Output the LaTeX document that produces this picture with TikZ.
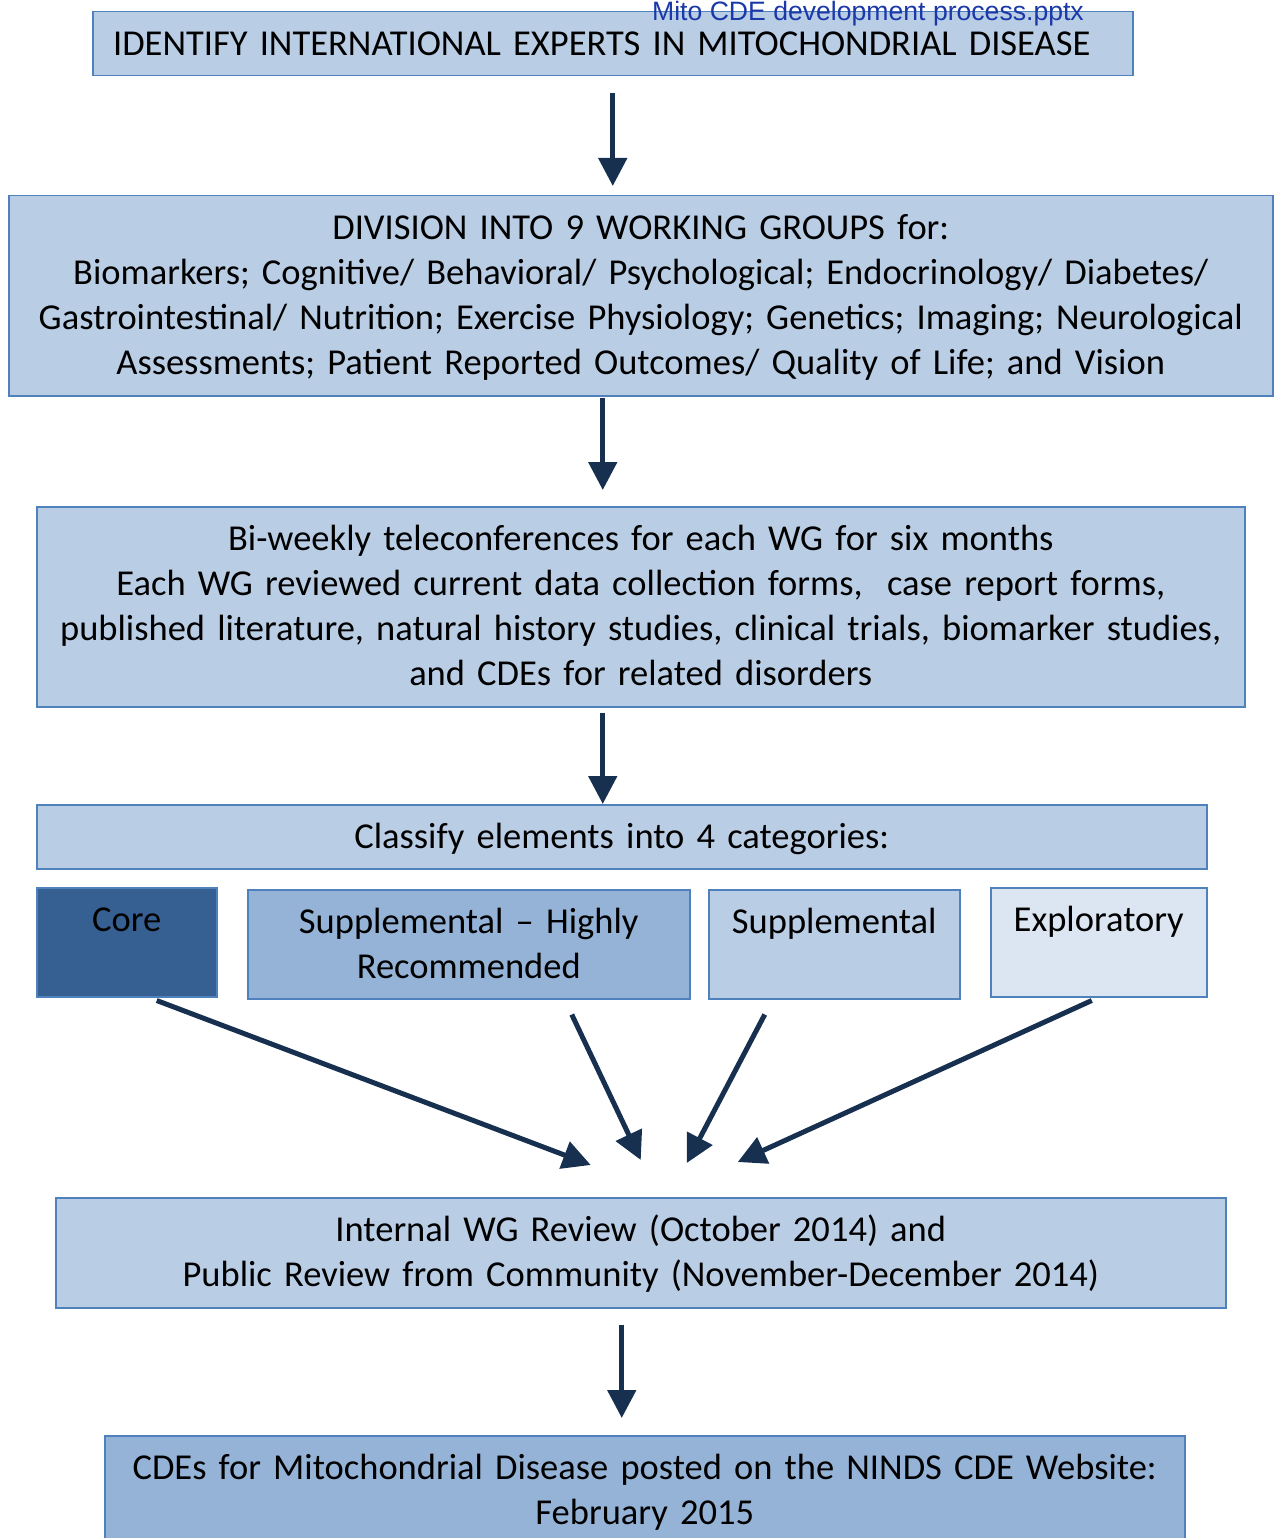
\documentclass[tikz,border=0pt]{standalone}
\usepackage{fontspec}
\setmainfont{Carlito}[WordSpace=0.85]
\newfontfamily\pptxfont{Liberation Sans}
\usepackage{tikz}
\usetikzlibrary{arrows.meta}
\definecolor{boxfill}{HTML}{B9CDE5}
\definecolor{boxline}{HTML}{4F81BD}
\definecolor{corefill}{HTML}{376092}
\definecolor{highfill}{HTML}{95B3D7}
\definecolor{explfill}{HTML}{DCE6F2}
\definecolor{arrowcol}{HTML}{17304F}
\definecolor{pptxblue}{HTML}{1A38A8}

\begin{document}
\begin{tikzpicture}[
    x=1pt, y=-1pt,
    >={Triangle[length=28pt,width=28pt]},
    font=\fontsize{36.5pt}{45pt}\selectfont,
    stage/.style={
		rectangle,
		draw=boxline,
		line width=1.5pt,
		fill=boxfill,
		anchor=north west,
		align=center,
		inner xsep=0pt,
		inner ysep=0pt,
		text height=44pt
	},
	category/.style={
		stage,
		text depth=65pt
	},
	flow/.style={
		draw=arrowcol,
		line width=5pt,
		->
	}
  ]
\useasboundingbox (0,0) rectangle (1274,1538);

% // the stages
\node [stage, text width=1040pt, text depth=20pt] (experts) at (92,11)
 {IDENTIFY INTERNATIONAL EXPERTS IN MITOCHONDRIAL DISEASE\kern22pt\null};
\node [font=\pptxfont\fontsize{26.6pt}{30pt}\selectfont, text=pptxblue,
 anchor=base, inner sep=0pt] (pptx) at (868,21) {Mito CDE development process.pptx};

\node [stage, text width=1264pt, text depth=156pt] (groups) at (8,195)
 {DIVISION INTO 9 WORKING GROUPS for:\\
  Biomarkers; Cognitive/ Behavioral/ Psychological; Endocrinology/ Diabetes/\\
  Gastrointestinal/ Nutrition; Exercise Physiology; Genetics; Imaging; Neurological\\
  Assessments; Patient Reported Outcomes/ Quality of Life; and Vision};

\node [stage, text width=1208pt, text depth=156pt] (teleconf) at (36,506)
 {Bi-weekly teleconferences for each WG for six months\\
  Each WG reviewed current data collection forms,~ case report forms,\\
  published literature, natural history studies, clinical trials, biomarker studies,\\
  and CDEs for related disorders};

\node [stage, text width=1170pt, text depth=20pt] (classify) at (36,804)
 {Classify elements into 4 categories:};

% // the categories
\node [category, text width=180pt, fill=corefill] (core) at (36,887) {Core};
\node [category, text width=442pt, fill=highfill] (high) at (247,889)
 {Supplemental -- Highly\\ Recommended};
\node [category, text width=251pt] (supp) at (708,889) {Supplemental};
\node [category, text width=216pt, fill=explfill] (expl) at (990,887) {Exploratory};

\node [stage, text width=1170pt, text depth=66pt] (review) at (55,1197)
 {Internal WG Review (October 2014) and\\
  Public Review from Community (November-December 2014)};

\node [stage, text width=1080pt, text depth=66pt, fill=highfill] (posted) at (104,1435)
 {CDEs for Mitochondrial Disease posted on the NINDS CDE Website:\\
  February 2015};

% // the arrows
\draw [flow, shorten <=17pt, shorten >=9pt] (experts.south) -- (experts.south |- groups.north);
\draw [flow, shorten <=1pt, shorten >=16pt] ([xshift=-38pt]groups.south) -- ([xshift=-38pt]groups.south |- teleconf.north);
\draw [flow, shorten <=5pt] ([xshift=-38pt]teleconf.south) -- ([xshift=-38pt]teleconf.south |- classify.north);

\draw [flow] ([xshift=30pt,yshift=-3pt]core.south) -- ([xshift=-50pt,yshift=32pt]review.north);
\draw [flow] ([xshift=103pt,yshift=-15pt]high.south) -- ([xshift=0pt,yshift=37pt]review.north);
\draw [flow] ([xshift=-69.5pt,yshift=-15pt]supp.south) -- ([xshift=46pt,yshift=34pt]review.north);
\draw [flow] ([xshift=-7pt,yshift=-3pt]expl.south) -- ([xshift=97pt,yshift=35pt]review.north);

\draw [flow, shorten <=16pt, shorten >=17pt] ([xshift=-19pt]review.south) -- ([xshift=-19pt]review.south |- posted.north);

\end{tikzpicture}
\end{document}
